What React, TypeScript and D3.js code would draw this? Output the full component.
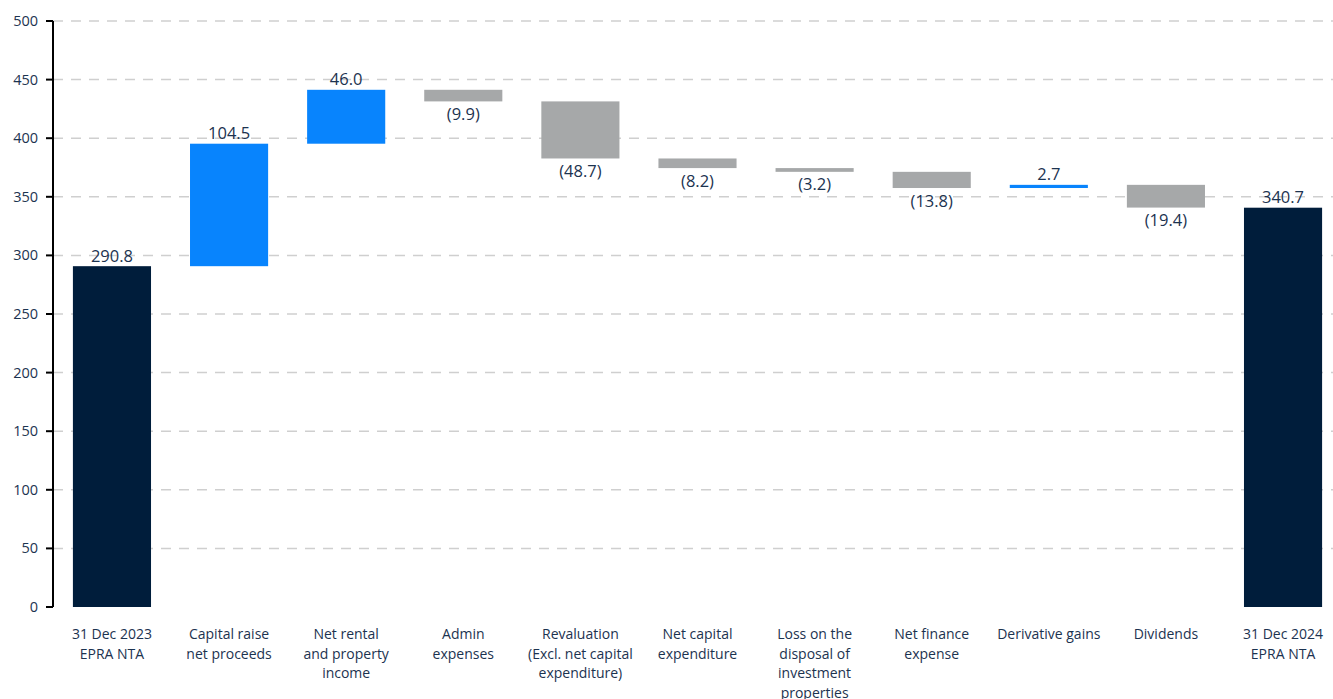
import React from "react";
import * as d3 from "d3";

const categories: string[][] = [
  ["31 Dec 2023", "EPRA NTA"],
  ["Capital raise", "net proceeds"],
  ["Net rental", "and property", "income"],
  ["Admin", "expenses"],
  ["Revaluation", "(Excl. net capital", "expenditure)"],
  ["Net capital", "expenditure"],
  ["Loss on the", "disposal of", "investment", "properties"],
  ["Net finance", "expense"],
  ["Derivative gains"],
  ["Dividends"],
  ["31 Dec 2024", "EPRA NTA"],
];
const values: number[] = [290.8, 104.5, 46.0, -9.9, -48.7, -8.2, -3.2, -13.8, 2.7, -19.4, 340.7];
const kinds: string[] = ["total", "step", "step", "step", "step", "step", "step", "step", "step", "step", "total"];
const yTicks: number[] = [0, 50, 100, 150, 200, 250, 300, 350, 400, 450, 500];

const W = 1333;
const H = 699;
const FONT = "'Open Sans', sans-serif";
const TEXT = "#1c3350";

export default function App() {
  const x = d3
    .scaleBand<number>()
    .domain(values.map((_, i) => i))
    .range([53, 1342])
    .paddingInner(0.333)
    .paddingOuter(0.17);
  const y = d3.scaleLinear().domain([0, 500]).range([607, 21]);

  let running = 0;
  const bars = values.map((v, i) => {
    let lo: number, hi: number;
    if (kinds[i] === "total") {
      lo = 0;
      hi = v;
      running = v;
    } else {
      const prev = running;
      running = prev + v;
      lo = Math.min(prev, running);
      hi = Math.max(prev, running);
    }
    const color = kinds[i] === "total" ? "#001d3b" : v >= 0 ? "#0884fd" : "#a6a8a9";
    return { i, v, lo, hi, color };
  });

  const fmt = (v: number) => (v < 0 ? `(${Math.abs(v).toFixed(1)})` : v.toFixed(1));

  return (
    <svg width={W} height={H} style={{ position: "absolute", left: 0, top: 0, fontFamily: FONT }}>
      {yTicks.map((t) => (
        <g key={t}>
          {t > 0 && (
            <line x1={53} x2={W} y1={y(t)} y2={y(t)} stroke="#cfcfcf" strokeWidth={1.5} strokeDasharray="10,8" />
          )}
          <line x1={46} x2={53} y1={y(t)} y2={y(t)} stroke="#000" strokeWidth={2} />
          <text x={38} y={y(t)} dy="0.35em" textAnchor="end" fontSize={14.5} fill={TEXT}>
            {t}
          </text>
        </g>
      ))}
      <line x1={53} x2={53} y1={y(500)} y2={y(0)} stroke="#000" strokeWidth={2} />
      {bars.map((b) => {
        const bx = x(b.i)!;
        const bw = x.bandwidth();
        const top = y(b.hi);
        const h = Math.max(y(b.lo) - y(b.hi), 2);
        const cx = bx + bw / 2;
        const above = b.v >= 0;
        return (
          <g key={b.i}>
            <rect x={bx} y={top} width={bw} height={h} fill={b.color} />
            <text
              x={cx}
              y={above ? top - 4.5 : top + h + 18.5}
              textAnchor="middle"
              fontSize={16.5}
              fill={TEXT}
            >
              {fmt(b.v)}
            </text>
          </g>
        );
      })}
      {categories.map((lines, i) => (
        <text key={i} x={x(i)! + x.bandwidth() / 2} y={639} textAnchor="middle" fontSize={14} fill={TEXT}>
          {lines.map((l, j) => (
            <tspan key={j} x={x(i)! + x.bandwidth() / 2} dy={j === 0 ? 0 : 19.5}>
              {l}
            </tspan>
          ))}
        </text>
      ))}
    </svg>
  );
}
